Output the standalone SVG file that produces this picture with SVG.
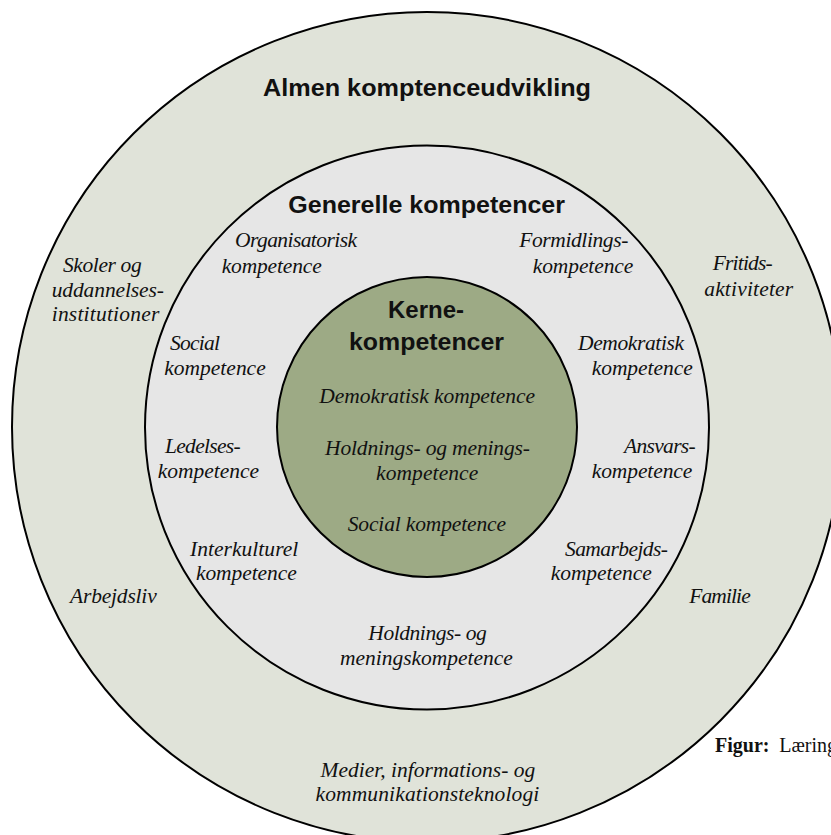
<svg xmlns="http://www.w3.org/2000/svg" width="831" height="835" viewBox="0 0 831 835">
<style>
.ring{stroke:#000;stroke-width:2}
.outer{fill:#e0e3d9}
.inner{fill:#e6e6e6}
.core{fill:#9daa85}
.it{font-family:"Liberation Serif","Times New Roman",serif;font-style:italic;font-size:21.5px;fill:#111}
.tt{font-family:"Liberation Sans",Arial,sans-serif;font-weight:bold;font-size:24px;fill:#111}
.fig{font-family:"Liberation Serif","Times New Roman",serif;font-size:20px;fill:#111}
</style>
<rect width="831" height="835" fill="#fff"/>
<g id="almen">
<circle class="ring outer" cx="427" cy="427" r="415"/>
<text class="tt" x="263" y="96" textLength="328" lengthAdjust="spacingAndGlyphs">Almen komptenceudvikling</text>
</g>
<g id="generelle">
<circle class="ring inner" cx="427" cy="427.5" r="282"/>
<text class="tt" x="288.3" y="212.7" textLength="276.7" lengthAdjust="spacingAndGlyphs">Generelle kompetencer</text>
</g>
<g id="kerne">
<circle class="ring core" cx="427" cy="427" r="150"/>
<text class="tt" x="388" y="318" textLength="76" lengthAdjust="spacingAndGlyphs">Kerne-</text>
<text class="tt" x="349" y="350" textLength="155" lengthAdjust="spacingAndGlyphs">kompetencer</text>
</g>
<g id="kerne-items">
<text class="it" x="319.3" y="403.3" textLength="215.7">Demokratisk kompetence</text>
<text class="it" x="325" y="454.5" textLength="205">Holdnings- og menings-</text>
<text class="it" x="376" y="480" textLength="102.3">kompetence</text>
<text class="it" x="347.7" y="531" textLength="158.3">Social kompetence</text>
</g>
<g id="skoler">
<text class="it" x="63" y="271.7" textLength="78.7">Skoler og</text>
<text class="it" x="51.7" y="296.7" textLength="112.3">uddannelses-</text>
<text class="it" x="51.7" y="321" textLength="107.6">institutioner</text>
</g>
<g id="fritid">
<text class="it" x="712.7" y="270.3" textLength="60">Fritids-</text>
<text class="it" x="704.2" y="296" textLength="89">aktiviteter</text>
</g>
<g id="arbejdsliv"><text class="it" x="70" y="603.3" textLength="86.7">Arbejdsliv</text></g>
<g id="familie"><text class="it" x="689.3" y="603.3" textLength="61.4">Familie</text></g>
<g id="medier">
<text class="it" x="320.5" y="776.5" textLength="214.7">Medier, informations- og</text>
<text class="it" x="315.5" y="801" textLength="223.8">kommunikationsteknologi</text>
</g>
<g id="organisatorisk">
<text class="it" x="235" y="247" textLength="122">Organisatorisk</text>
<text class="it" x="221.7" y="273" textLength="100">kompetence</text>
</g>
<g id="formidling">
<text class="it" x="519.3" y="246.7" textLength="109">Formidlings-</text>
<text class="it" x="532.7" y="273.3" textLength="100.6">kompetence</text>
</g>
<g id="social">
<text class="it" x="170" y="350" textLength="50">Social</text>
<text class="it" x="164.3" y="375" textLength="101.4">kompetence</text>
</g>
<g id="demokratisk">
<text class="it" x="578" y="350" textLength="106">Demokratisk</text>
<text class="it" x="591.7" y="375" textLength="101">kompetence</text>
</g>
<g id="ledelse">
<text class="it" x="165" y="452.7" textLength="75.7">Ledelses-</text>
<text class="it" x="157.7" y="477.7" textLength="101.3">kompetence</text>
</g>
<g id="ansvar">
<text class="it" x="624" y="452.7" textLength="71.7">Ansvars-</text>
<text class="it" x="591.7" y="477.7" textLength="100.6">kompetence</text>
</g>
<g id="interkulturel">
<text class="it" x="190" y="556" textLength="108.3">Interkulturel</text>
<text class="it" x="196" y="580" textLength="100.7">kompetence</text>
</g>
<g id="samarbejde">
<text class="it" x="565" y="556" textLength="103">Samarbejds-</text>
<text class="it" x="550.7" y="580" textLength="101">kompetence</text>
</g>
<g id="holdning">
<text class="it" x="368.3" y="640" textLength="118.4">Holdnings- og</text>
<text class="it" x="340" y="665" textLength="172.7">meningskompetence</text>
</g>
<g id="figur">
<text class="fig" x="715" y="751.7"><tspan font-weight="bold">Figur:</tspan><tspan x="779.3">Læring</tspan></text>
</g>
</svg>
